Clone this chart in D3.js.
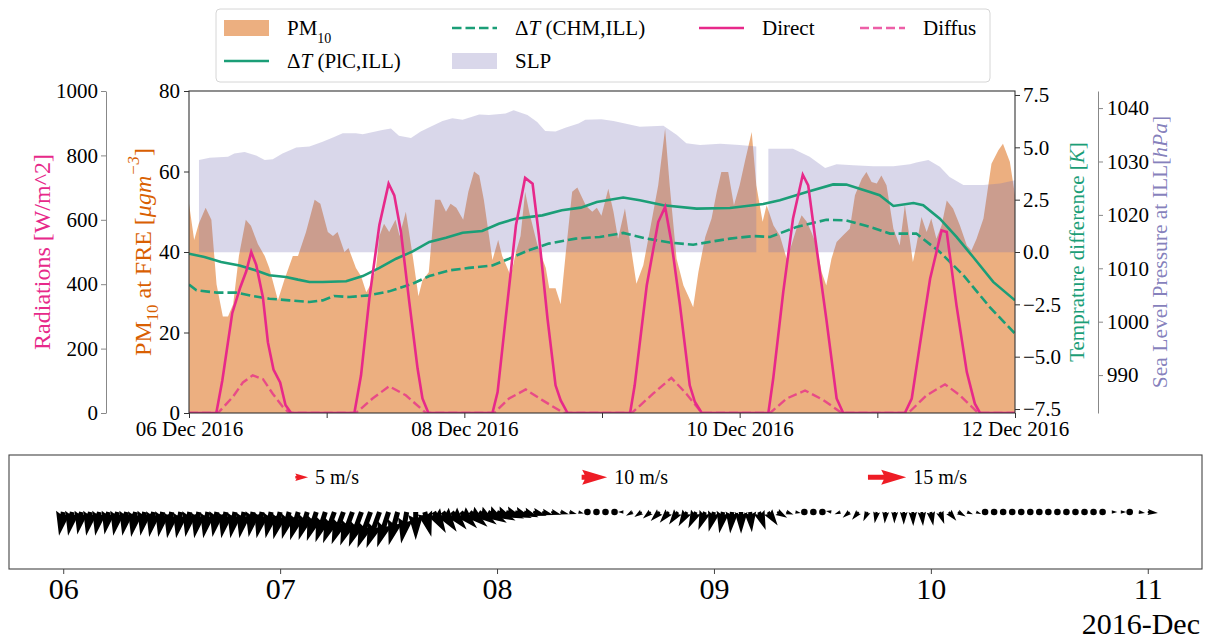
<!DOCTYPE html>
<html><head><meta charset="utf-8">
<script src="https://cdn.jsdelivr.net/npm/d3@7"></script>
<style>
body{margin:0;background:#fff;}
svg text{font-family:"Liberation Serif","DejaVu Serif",serif;}
</style></head><body>
<svg id="c" width="1210" height="639"></svg>
<script>
// ---------------- DATA (hours since 06 Dec 2016 00:00) ----------------
const pmHours = [0,0.9,1.7,2.9,3.9,4.8,5.9,6.8,7.7,8.7,9.9,10.8,12.0,13.2,14.0,15.5,16.6,18.1,19.0,20.4,21.9,22.9,24.2,25.1,25.9,27.1,27.8,29.1,30.0,30.9,31.7,32.6,33.2,34.0,34.9,36.0,36.7,37.8,39.0,40.0,40.7,41.8,42.9,43.8,44.8,45.6,46.6,47.8,48.7,49.7,50.6,51.4,52.9,53.9,54.6,55.5,56.1,57.0,57.8,58.6,59.3,60.7,62.2,62.8,63.9,64.8,65.7,66.8,67.7,69.2,70.3,71.1,71.9,73.1,74.0,74.8,76.0,76.9,78.0,79.2,80.4,81.8,83.0,83.8,85.0,86.2,87.0,87.9,88.8,90.0,91.1,92.0,92.8,94.0,95.0,96.0,96.9,98.1,98.9,100.0,100.7,101.9,103.0,104.2,105.0,105.9,106.8,107.7,108.5,109.4,110.3,111.1,112.0,112.9,114.0,115.2,116.1,117.3,118.1,119.0,119.9,120.7,121.6,122.8,123.9,124.8,125.4,126.2,126.8,127.7,128.6,129.4,130.3,131.2,132.1,133.2,134.4,135.6,136.4,137.3,138.5,139.9,141.1,141.9,143.1,144.0];
const pmValues = [52,43,47,51,48,32,24,24,27,39,48,46.5,42,39,36,28,33,39,39,45,53,52,45,44,45,40,41,36,34,30,32,36,44,47,45,48,44,50,39,29,33,35,53,53,50,52,51,48,55,60,59,53,38,43,39,36,34,40,44,55,50,42,36,31,31,27,40,55,56,51.5,50,51,49,55.7,50,43.3,50.8,42.5,32.1,36.7,45.8,56.6,70.6,56.6,38.3,31.7,29.2,26.3,35,43.7,48.3,54.9,59.9,59.9,51.6,56.6,62.4,69.8,56.6,47.5,51.6,46.6,44.1,38.3,41.6,45.8,49.1,47.5,45,41.6,35,31.7,38.3,42.5,44.1,45.8,54.1,58.2,59.9,57.4,57,59,56.6,45.8,41.6,51.6,45.8,37.5,41.6,48.7,45,48.3,43.3,46.6,52.8,50.8,46.6,41.6,40.4,43.3,48.3,61.9,65.3,66.9,62.4,54.1];

const slpHours = [1.74,3.6,6.8,7.9,9.7,11.7,13.2,14.6,16.3,18.7,21.0,23.3,25.3,26.8,29.1,30.3,33.7,35.2,36.6,38.7,40.4,42.1,44.2,45.9,47.7,50.6,52.3,55.2,56.6,59.0,60.7,62.1,63.9,65.6,67.9,69.1,71.9,74.0,78.6,82.7,85.0,86.7,89.1,92.6,96.0,98.9,99.5,101.0,105.3,108.2,110.9,112.9,115.8,119.3,122.8,125.7,126.8,128.9,130.9,132.6,135.0,138.5,141.4,144.0];
const slpValues = [1030.3,1030.7,1030.9,1031.5,1031.8,1031.1,1030.3,1030.4,1031.5,1032.6,1032.8,1033.7,1034.6,1035.3,1035.3,1035.1,1035.9,1036.2,1034.8,1034.4,1035.6,1036.5,1037.6,1038.1,1037.8,1038.8,1038.7,1039.0,1039.6,1038.7,1037.4,1035.7,1035.6,1036.3,1037.1,1037.8,1037.9,1037.6,1036.5,1036.7,1035.0,1033.4,1033.1,1033.3,1033.1,1032.8,null,1032.4,1032.4,1030.9,1028.8,1029.5,1029.3,1029.1,1029.1,1029.5,1029.8,1030.3,1029.0,1027.1,1025.6,1025.6,1025.9,1026.5];
const slpBase = 1013;

const dtPlcHours = [0,2.7,5.6,8.8,11.7,14.0,16.9,19.0,21.0,23.3,27.4,30.3,33.2,36.1,39.0,41.9,44.8,47.7,51.1,54.0,56.9,61.6,65.0,68.3,71.1,75.7,78.6,82.7,88.5,94.3,100.1,103.0,107.7,112.3,114.6,118.7,120.4,122.8,126.3,128.0,130.9,133.8,136.7,140.2,144.0];
const dtPlcValues = [-0.08,-0.24,-0.48,-0.64,-0.88,-1.11,-1.19,-1.32,-1.43,-1.43,-1.40,-1.15,-0.76,-0.32,0.03,0.48,0.68,0.92,1.0,1.35,1.59,1.75,1.99,2.12,2.39,2.6,2.47,2.23,2.07,2.10,2.29,2.47,2.87,3.23,3.22,2.87,2.71,2.2,2.34,2.23,1.59,0.72,-0.24,-1.43,-2.31];

const dtChmHours = [0,1.3,4.8,8.2,11.1,14.0,17.5,21.0,23.3,25.3,27.9,31.4,34.9,39.0,41.9,45.3,48.8,52.9,55.8,59.2,62.7,67.4,71.6,75.7,79.8,83.8,87.9,94.3,98.4,101.3,105.9,111.1,114.6,119.3,122.2,126.8,130.9,135.0,139.6,144.0];
const dtChmValues = [-1.56,-1.83,-1.94,-1.94,-2.10,-2.23,-2.31,-2.39,-2.31,-2.10,-2.15,-2.07,-1.88,-1.51,-1.15,-0.88,-0.76,-0.64,-0.32,0.08,0.40,0.64,0.72,0.91,0.64,0.45,0.35,0.64,0.76,0.72,1.19,1.54,1.51,1.15,0.88,0.88,0,-1.11,-2.63,-3.9];

const directHours = [0,4.76,5.8,7.54,8.93,9.98,10.85,11.72,12.88,13.75,14.73,15.89,16.82,17.8,28.83,29.99,31.44,33.18,34.8,35.79,36.95,38.4,39.85,40.7,41.74,52.9,53.8,55.2,57.0,58.6,59.9,61.0,62.5,63.9,64.8,66.0,76.9,77.7,79.8,81.8,83.0,84.1,85.6,87.3,88.2,89.4,101.0,101.85,103.6,105.3,107.0,107.95,109.1,111.1,112.9,114.05,124.8,126.0,127.4,129.2,131.2,132.1,133.8,135.6,137.0,137.9,144.0];
const directValues = [0,0,100,310,390,440,500,460,360,220,135,95,25,0,0,117,355,583,712,676,562,345,138,45,0,0,65,293,583,730,712,552,293,86,39,0,0,86,396,593,640,531,334,86,34,0,0,107,376,604,740,707,552,293,45,0,0,45,210,417,567,562,334,127,29,0,0];

const diffusHours = [0,5.05,7.65,9.4,11.1,12.9,14.6,16.3,17.5,29.1,32.0,34.9,37.8,41.3,53.2,55.8,58.7,61.6,65.3,77.2,80.9,84.1,86.7,89.4,101.3,104.2,107.4,110.6,113.8,125.4,128.6,131.8,134.4,137.6,144.0];
const diffusValues = [0,0,50,95,117,105,60,20,0,0,45,83,55,0,0,45,73,40,0,0,60,109,60,0,0,45,70,40,0,0,55,89,55,0,0];

// Wind, hourly from 06 Dec 00:00 to 11 Dec 00:00 (speed m/s, direction deg, 0 = towards east, -90 = towards south)
const windSpeed = [9.5,9.5,9.0,9.5,9.5,9.0,9.5,9.5,10.0,9.5,
  10.0,10.0,10.5,10.5,10.0,10.5,10.5,10.0,10.5,10.5,
  10.5,10.0,10.5,10.5,11.0,11.0,11.5,11.5,12.0,12.5,
  13.0,13.5,14.0,14.5,15.0,15.0,14.5,13.5,12.5,11.0,
  10.0,9.5,9.5,9.0,9.0,9.0,8.5,8.5,8.0,7.5,
  7.0,6.0,5.5,4.5,4.0,3.5,3.0,2.2,0,0,
  0,0,2.2,3.0,3.5,4.0,5.0,5.5,6.0,6.5,
  7.0,7.5,8.0,8.5,8.5,8.5,8.0,7.5,6.5,4.5,
  3.0,2.2,0,0,0,2.2,2.5,3.5,4.0,4.0,
  4.5,4.5,4.5,5.0,5.5,5.5,5.5,5.0,4.5,3.5,
  2.5,2.2,0,0,0,0,0,0,0,0,
  0,0,0,0,0,0,2.2,2.2,0,2.5,
  4.0];
const windDir = [-100,-100,-100,-100,-100,-100,-100,-100,-100,-100,
  -100,-100,-100,-100,-100,-100,-100,-100,-100,-100,
  -100,-100,-102,-102,-104,-105,-106,-107,-108,-108,
  -110,-110,-110,-110,-110,-110,-108,-105,-100,-90,
  -75,-60,-55,-50,-45,-40,-35,-30,-25,-20,
  -20,-20,-15,-15,-15,-15,-15,-15,0,0,
  0,0,180,-150,-145,-140,-135,-130,-125,-120,
  -115,-110,-105,-100,-95,-90,-85,-70,-55,-30,
  -20,-10,0,0,0,170,-160,-140,-130,-115,
  -100,-95,-92,-90,-88,-85,-80,-70,-50,-30,
  -20,-20,0,0,0,0,0,0,0,0,
  0,0,0,0,0,0,0,0,0,-10,
  -5];
const keySpeeds = [5, 10, 15];
const keyLabels = ["5 m/s", "10 m/s", "15 m/s"];

const pmTicks = [0,20,40,60,80];
const radTicks = [0,200,400,600,800,1000];
const tTicks = [-7.5,-5,-2.5,0,2.5,5,7.5];
const slpTicks = [990,1000,1010,1020,1030,1040];

// ---------------- COLOURS ----------------
const cPM = "#d95f02", cSLP = "#7570b3", cT = "#1b9e77", cRad = "#e7298a", cKey = "#ee1c25";

// ---------------- SCALES ----------------
const T0 = Date.UTC(2016, 11, 6);
const toDate = h => new Date(T0 + h * 3600e3);
const svg = d3.select("#c");
const M = {left:189, right:1015, top:91, bottom:413};
const x = d3.scaleUtc().domain([toDate(0), toDate(144)]).range([M.left, M.right]);
const yPM = d3.scaleLinear().domain([0,80]).range([M.bottom, M.top]);
const yRad = d3.scaleLinear().domain([0,1000]).range([M.bottom, M.top]);
const yT = d3.scaleLinear().domain([-7.69,7.69]).range([M.bottom, M.top]);
const ySLP = d3.scaleLinear().domain([982.9,1043.2]).range([M.bottom, M.top]);

svg.append("defs").append("clipPath").attr("id","clip")
  .append("rect").attr("x",M.left).attr("y",M.top).attr("width",M.right-M.left).attr("height",M.bottom-M.top);
const g = svg.append("g").attr("clip-path","url(#clip)");

const zipH = (hs, vs) => hs.map((h,i)=>({h, v: vs[i]}));

// PM area
g.append("path").datum(zipH(pmHours, pmValues))
  .attr("d", d3.area().x(d=>x(toDate(d.h))).y0(yPM(0)).y1(d=>yPM(d.v)))
  .attr("fill", cPM).attr("fill-opacity", 0.5);
// SLP area
g.append("path").datum(zipH(slpHours, slpValues))
  .attr("d", d3.area().defined(d=>d.v!==null).x(d=>x(toDate(d.h))).y0(ySLP(slpBase)).y1(d=>ySLP(d.v)))
  .attr("fill", cSLP).attr("fill-opacity", 0.28);
// temperature lines
const lineT = d3.line().x(d=>x(toDate(d.h))).y(d=>yT(d.v));
g.append("path").datum(zipH(dtPlcHours, dtPlcValues)).attr("d", lineT)
  .attr("fill","none").attr("stroke",cT).attr("stroke-width",2.6);
g.append("path").datum(zipH(dtChmHours, dtChmValues)).attr("d", lineT)
  .attr("fill","none").attr("stroke",cT).attr("stroke-width",2.6).attr("stroke-dasharray","9.5,4");
// radiation lines
const lineR = d3.line().x(d=>x(toDate(d.h))).y(d=>yRad(d.v));
g.append("path").datum(zipH(diffusHours, diffusValues)).attr("d", lineR)
  .attr("fill","none").attr("stroke",cRad).attr("stroke-opacity",0.75).attr("stroke-width",2.4).attr("stroke-dasharray","9,4");
g.append("path").datum(zipH(directHours, directValues)).attr("d", lineR)
  .attr("fill","none").attr("stroke",cRad).attr("stroke-width",2.6);

// frame
svg.append("rect").attr("x",M.left).attr("y",M.top).attr("width",M.right-M.left).attr("height",M.bottom-M.top)
  .attr("fill","none").attr("stroke","#333").attr("stroke-width",1.1);

function styleAxis(sel, fs, col){
  sel.selectAll("text").attr("font-size", fs).attr("fill","#000")
    .style("font-family",'"Liberation Serif","DejaVu Serif",serif');
  sel.selectAll(".tick line").attr("stroke", col);
  sel.select(".domain").attr("stroke", col);
}
// axes
const axPM = svg.append("g").attr("transform",`translate(${M.left},0)`)
  .call(d3.axisLeft(yPM).tickValues(pmTicks).tickSize(5).tickPadding(4));
axPM.select(".domain").remove(); styleAxis(axPM, 21, "#333");

const axRad = svg.append("g").attr("transform",`translate(106,0)`)
  .call(d3.axisLeft(yRad).tickValues(radTicks).tickFormat(d3.format("d")).tickSize(5).tickSizeOuter(0).tickPadding(3));
styleAxis(axRad, 21, "#888");

const axT = svg.append("g").attr("transform",`translate(${M.right},0)`)
  .call(d3.axisRight(yT).tickValues(tTicks).tickFormat(d3.format(".1f")).tickSize(5).tickPadding(3));
axT.select(".domain").remove(); styleAxis(axT, 21, "#333");

const axS = svg.append("g").attr("transform",`translate(1098,0)`)
  .call(d3.axisRight(ySLP).tickValues(slpTicks).tickFormat(d3.format("d")).tickSize(5).tickSizeOuter(0).tickPadding(4));
styleAxis(axS, 21, "#888");

const dayFmt = d3.utcFormat("%d %b %Y");
const axX = svg.append("g").attr("transform",`translate(0,${M.bottom})`)
  .call(d3.axisBottom(x).ticks(d3.utcDay.every(1)).tickFormat(d => d.getUTCDate()%2===0 ? dayFmt(d) : "").tickSize(5).tickPadding(3));
axX.select(".domain").remove(); styleAxis(axX, 21, "#333");

// axis labels
function vLabel(cx, cy, fs, parts, color, opacity){
  const t = svg.append("text").attr("transform",`translate(${cx},${cy}) rotate(-90)`)
    .attr("text-anchor","middle").attr("font-size",fs).attr("fill",color).attr("fill-opacity",opacity||1)
    .attr("dominant-baseline","central");
  parts.forEach(p=>{
    const s = t.append("tspan").text(p.t);
    if(p.i) s.attr("font-style","italic");
    if(p.sub) s.attr("baseline-shift","sub").attr("font-size",fs*0.7);
    if(p.sup) s.attr("baseline-shift","super").attr("font-size",fs*0.7);
  });
}
const cy = (M.top+M.bottom)/2;
vLabel(42, cy, 24, [{t:"Radiations [W/m^2]"}], cRad);
vLabel(143, cy, 24, [{t:"PM"},{t:"10",sub:true},{t:" at FRE ["},{t:"μgm",i:true},{t:"−3",sup:true,i:true},{t:"]"}], cPM);
vLabel(1077, cy, 21, [{t:"Temprature difference ["},{t:"K",i:true},{t:"]"}], cT);
vLabel(1160, cy, 21.5, [{t:"Sea Level Pressure at ILL["},{t:"hPa",i:true},{t:"]"}], cSLP, 0.9);

// ---------------- LEGEND ----------------
svg.append("rect").attr("x",216).attr("y",9).attr("width",774).attr("height",73).attr("rx",4)
  .attr("fill","#fff").attr("fill-opacity",0.8).attr("stroke","#d6d6d6");
const legendItems = [
  {col:0,row:0,type:"patch",color:cPM,op:0.5,parts:[{t:"PM"},{t:"10",sub:true}]},
  {col:0,row:1,type:"line",color:cT,dash:null,parts:[{t:"Δ"},{t:"T",i:true},{t:" (PlC,ILL)"}]},
  {col:1,row:0,type:"line",color:cT,dash:"9.5,4",parts:[{t:"Δ"},{t:"T",i:true},{t:" (CHM,ILL)"}]},
  {col:1,row:1,type:"patch",color:cSLP,op:0.28,parts:[{t:"SLP"}]},
  {col:2,row:0,type:"line",color:cRad,dash:null,parts:[{t:"Direct"}]},
  {col:3,row:0,type:"line",color:cRad,dash:"9,4",lop:0.75,parts:[{t:"Diffus"}]}
];
const colX = [224, 452, 699, 860], rowY = [28, 61];
legendItems.forEach(it=>{
  const x0 = colX[it.col], y0 = rowY[it.row];
  if(it.type==="patch"){
    svg.append("rect").attr("x",x0).attr("y",y0-8).attr("width",45).attr("height",16)
      .attr("fill",it.color).attr("fill-opacity",it.op);
  } else {
    svg.append("line").attr("x1",x0).attr("x2",x0+45).attr("y1",y0).attr("y2",y0)
      .attr("stroke",it.color).attr("stroke-width",2.6).attr("stroke-opacity",it.lop||1)
      .attr("stroke-dasharray",it.dash);
  }
  const t = svg.append("text").attr("x",x0+63).attr("y",y0+7).attr("font-size",21).attr("fill","#000");
  it.parts.forEach(p=>{
    const s = t.append("tspan").text(p.t);
    if(p.i) s.attr("font-style","italic");
    if(p.sub) s.attr("baseline-shift","sub").attr("font-size",14);
  });
});

// ---------------- QUIVER PANEL ----------------
const Q = {left:9, right:1202, top:455, bottom:569};
const xq = d3.scaleUtc().domain([toDate(-6), toDate(126)]).range([Q.left, Q.right]);
const yq = d3.scaleLinear().domain([-1,1]).range([Q.bottom, Q.top]);
const PXMS = 2.55, SW = 5, HL = 25, HW = 15, HAL = 22.5;
function arrowPts(L){
  if(L >= HL) return [[0,-SW/2],[L-HAL,-SW/2],[L-HL,-HW/2],[L,0],[L-HL,HW/2],[L-HAL,SW/2],[0,SW/2]];
  const s = L/HL;
  return [[0,-SW/2*s],[L-HAL*s,-SW/2*s],[0,-HW/2*s],[L,0],[0,HW/2*s],[L-HAL*s,SW/2*s],[0,SW/2*s]];
}
const qg = svg.append("g");
windSpeed.forEach((sp,i)=>{
  const px = xq(toDate(i)), py = yq(0);
  const L = sp*PXMS;
  if(L < 5){
    qg.append("circle").attr("cx",px).attr("cy",py).attr("r",3.3).attr("fill","#000");
  } else {
    qg.append("polygon").attr("points", arrowPts(L).map(p=>p.join(",")).join(" "))
      .attr("transform",`translate(${px},${py}) rotate(${-windDir[i]})`).attr("fill","#000");
  }
});
// quiver keys
const keyFrac = [0.24, 0.48, 0.72];
keySpeeds.forEach((sp,i)=>{
  const kx = Q.left + keyFrac[i]*(Q.right-Q.left), ky = yq(0.61);
  const L = sp*PXMS;
  svg.append("polygon").attr("points", arrowPts(L).map(p=>p.join(",")).join(" "))
    .attr("transform",`translate(${kx},${ky})`).attr("fill",cKey);
  svg.append("text").attr("x",kx+L+7).attr("y",ky+7).attr("font-size",20).attr("fill","#000").text(keyLabels[i]);
});
svg.append("rect").attr("x",Q.left).attr("y",Q.top).attr("width",Q.right-Q.left).attr("height",Q.bottom-Q.top)
  .attr("fill","none").attr("stroke","#444").attr("stroke-width",1.1);
const axQ = svg.append("g").attr("transform",`translate(0,${Q.bottom})`)
  .call(d3.axisBottom(xq).ticks(d3.utcDay.every(1)).tickFormat(d3.utcFormat("%d")).tickSize(5).tickPadding(4));
axQ.select(".domain").remove(); styleAxis(axQ, 30, "#444");
svg.append("text").attr("x",1200).attr("y",634).attr("text-anchor","end").attr("font-size",30).attr("fill","#000")
  .text(d3.utcFormat("%Y-%b")(toDate(0)));
</script>
</body></html>
